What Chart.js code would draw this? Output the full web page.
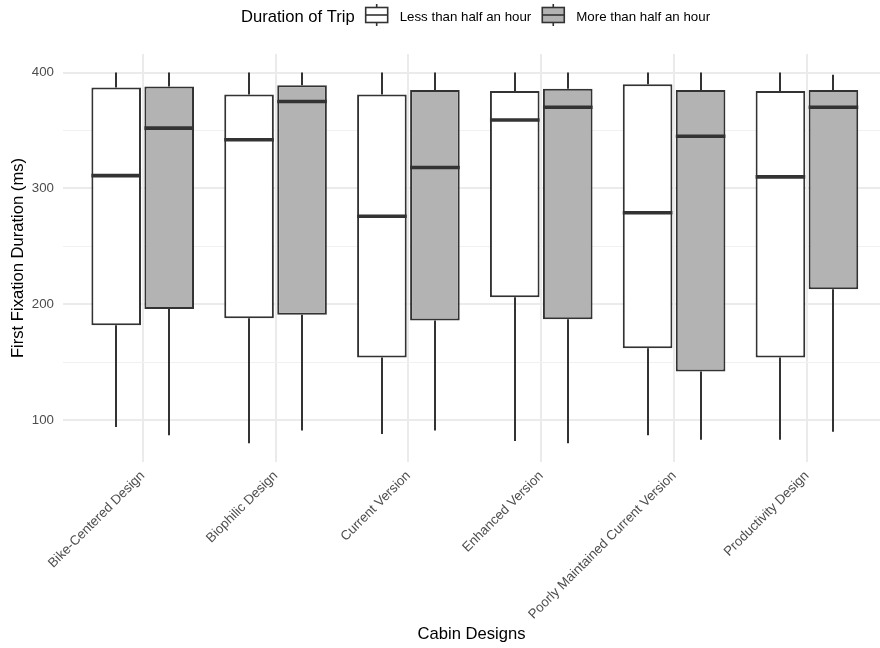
<!DOCTYPE html>
<html>
<head>
<meta charset="utf-8">
<script src="https://cdn.jsdelivr.net/npm/chart.js@4.4.0/dist/chart.umd.min.js"></script>
<style>
html,body{margin:0;padding:0;background:#fff;overflow:hidden}
canvas{display:block}
</style>
</head>
<body>
<canvas id="c" width="880" height="648"></canvas>
<script>
// ---- data ----
const categories = ["Bike-Centered Design", "Biophilic Design", "Current Version", "Enhanced Version", "Poorly Maintained Current Version", "Productivity Design"];
const seriesNames = ["Less than half an hour", "More than half an hour"];

const lessMin    = [94, 80, 88, 82, 87, 83];
const lessQ1     = [182, 188, 154, 206, 162, 154];
const lessMedian = [311, 342, 276, 359, 279, 310];
const lessQ3     = [387, 381, 381, 384, 390, 384];
const lessMax    = [400, 400, 400, 400, 400, 400];

const moreMin    = [87, 91, 91, 80, 83, 90];
const moreQ1     = [196, 191, 186, 187, 142, 213];
const moreMedian = [352, 375, 318, 370, 345, 370];
const moreQ3     = [388, 389, 385, 386, 385, 385];
const moreMax    = [400, 400, 400, 400, 400, 398];

const yTicks = [100, 150, 200, 250, 300, 350, 400];
const yMajorTicks = [100, 200, 300, 400];

// ---- styling ----
const FONT = '"Liberation Sans", Arial, Helvetica, sans-serif';
const LINE = '#333333';
const fills = ['#ffffff', '#b3b3b3'];

const stats = [
  {min: lessMin, q1: lessQ1, med: lessMedian, q3: lessQ3, max: lessMax},
  {min: moreMin, q1: moreQ1, med: moreMedian, q3: moreQ3, max: moreMax}
];

const datasets = stats.map((s, k) => ({
  label: seriesNames[k],
  data: categories.map((c, i) => ({x: i, y: [s.q1[i], s.q3[i]]})),
  backgroundColor: fills[k],
  borderColor: LINE,
  borderWidth: 2,
  borderSkipped: false,
  inflateAmount: 0,
  categoryPercentage: 0.798,
  barPercentage: 0.936
}));

const boxParts = {
  id: 'boxParts',
  beforeDatasetsDraw(chart) {
    const ctx = chart.ctx, y = chart.scales.y;
    ctx.save();
    ctx.strokeStyle = LINE;
    ctx.lineWidth = 2;
    ctx.lineCap = 'butt';
    stats.forEach((s, k) => {
      const meta = chart.getDatasetMeta(k);
      meta.data.forEach((bar, i) => {
        const x = Math.round(bar.x);
        ctx.beginPath();
        ctx.moveTo(x, y.getPixelForValue(s.max[i]));
        ctx.lineTo(x, y.getPixelForValue(s.q3[i]));
        ctx.moveTo(x, y.getPixelForValue(s.q1[i]));
        ctx.lineTo(x, y.getPixelForValue(s.min[i]));
        ctx.stroke();
      });
    });
    ctx.restore();
  },
  afterDatasetsDraw(chart) {
    const ctx = chart.ctx, y = chart.scales.y;
    ctx.save();
    ctx.strokeStyle = LINE;
    ctx.lineWidth = 3.6;
    ctx.lineCap = 'butt';
    stats.forEach((s, k) => {
      const meta = chart.getDatasetMeta(k);
      meta.data.forEach((bar, i) => {
        const py = y.getPixelForValue(s.med[i]);
        ctx.beginPath();
        ctx.moveTo(bar.x - bar.width / 2, py);
        ctx.lineTo(bar.x + bar.width / 2, py);
        ctx.stroke();
      });
    });
    ctx.restore();
  }
};

const legendPlugin = {
  id: 'ggLegend',
  afterDraw(chart) {
    const ctx = chart.ctx;
    ctx.save();
    const titleFont = '16.6px ' + FONT;
    const labFont = '13.3px ' + FONT;
    const title = 'Duration of Trip';
    ctx.font = titleFont;
    const tw = ctx.measureText(title).width;
    ctx.font = labFont;
    const lw = seriesNames.map(n => ctx.measureText(n).width);
    const gw = 22;
    const total = tw + 11 + gw + 12 + lw[0] + 11 + gw + 12 + lw[1];
    let x = 475.5 - total / 2;
    ctx.fillStyle = '#000';
    ctx.textBaseline = 'alphabetic';
    ctx.textAlign = 'left';
    ctx.font = titleFont;
    ctx.fillText(title, x, 22);
    x += tw + 11;
    const glyph = (gx, fill) => {
      ctx.strokeStyle = LINE;
      ctx.lineWidth = 1.6;
      const cx = gx + gw / 2;
      ctx.beginPath();
      ctx.moveTo(cx, 4); ctx.lineTo(cx, 7.5);
      ctx.moveTo(cx, 22.5); ctx.lineTo(cx, 26);
      ctx.stroke();
      ctx.fillStyle = fill;
      ctx.fillRect(gx, 7.5, gw, 15);
      ctx.strokeRect(gx, 7.5, gw, 15);
      ctx.beginPath();
      ctx.moveTo(gx, 15); ctx.lineTo(gx + gw, 15);
      ctx.stroke();
    };
    for (let k = 0; k < 2; k++) {
      glyph(x, fills[k]);
      x += gw + 12;
      ctx.fillStyle = '#000';
      ctx.font = labFont;
      ctx.fillText(seriesNames[k], x, 20.5);
      x += lw[k] + 11;
    }
    ctx.restore();
  }
};

new Chart(document.getElementById('c'), {
  type: 'bar',
  data: {datasets},
  plugins: [boxParts, legendPlugin],
  options: {
    responsive: false,
    animation: false,
    devicePixelRatio: 1,
    layout: {padding: {top: 54, left: 0, right: 0, bottom: 0}},
    plugins: {legend: {display: false}, tooltip: {enabled: false}, title: {display: false}},
    scales: {
      x: {
        type: 'linear',
        offset: false,
        min: -0.6,
        max: 5.55,
        afterBuildTicks: s => { s.ticks = categories.map((_, i) => ({value: i})); },
        afterFit: s => { s.height = 186; s.paddingLeft = 0; s.paddingRight = 0; },
        ticks: {
          callback: v => categories[v],
          minRotation: 45, maxRotation: 45, autoSkip: false,
          font: {family: FONT, size: 13.3},
          color: '#4d4d4d',
          padding: 6
        },
        grid: {color: '#ebebeb', lineWidth: 2, drawTicks: false, offset: false},
        border: {display: false},
        title: {display: true, text: 'Cabin Designs', color: '#000', font: {family: FONT, size: 16.6}, padding: {top: 0, bottom: 4}}
      },
      y: {
        type: 'linear',
        min: 63.9,
        max: 416,
        afterBuildTicks: s => { s.ticks = yTicks.map(v => ({value: v})); },
        afterFit: s => { s.width = 63; s.paddingTop = 0; s.paddingBottom = 0; },
        ticks: {
          callback: v => yMajorTicks.includes(v) ? String(v) : '',
          font: {family: FONT, size: 13.3},
          color: '#4d4d4d',
          padding: 9
        },
        grid: {
          color: c => yMajorTicks.includes(c.tick.value) ? '#ebebeb' : '#f1f1f1',
          lineWidth: c => yMajorTicks.includes(c.tick.value) ? 2 : 1.1,
          drawTicks: false
        },
        border: {display: false},
        title: {display: true, text: 'First Fixation Duration (ms)', color: '#000', font: {family: FONT, size: 16.6}, padding: {top: 8.5, bottom: 0}}
      }
    }
  }
});
</script>
</body>
</html>
